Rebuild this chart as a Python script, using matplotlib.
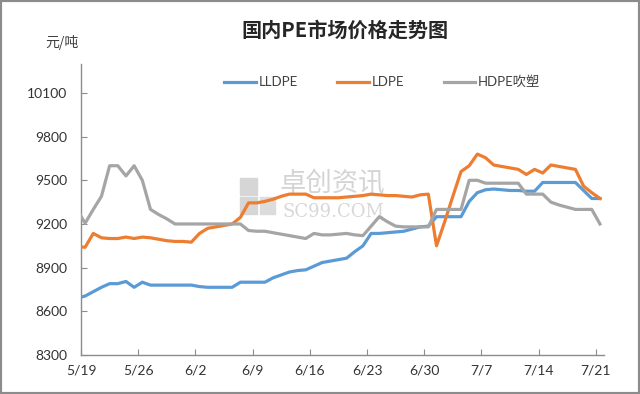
import matplotlib
matplotlib.use("Agg")
import matplotlib.pyplot as plt
import numpy as np
from matplotlib.patches import Rectangle

plt.rcParams["font.family"] = ["Lato", "Noto Sans CJK SC", "DejaVu Sans"]

# daily prices, 5/18 .. 7/21 (first day is clipped by the axis, as in the source)
tick_labels = ["5/19", "5/26", "6/2", "6/9", "6/16", "6/23", "6/30", "7/7", "7/14", "7/21"]
series_names = ["LLDPE", "LDPE", "HDPE吹塑"]

lldpe = [8690, 8705, 8735, 8765, 8790, 8790, 8805, 8765, 8800, 8780,
         8780, 8780, 8780, 8780, 8780, 8770, 8765, 8765, 8765, 8765,
         8800, 8800, 8800, 8800, 8830, 8850, 8870, 8880, 8885, 8910,
         8935, 8945, 8955, 8965, 9010, 9050, 9135, 9135, 9140, 9145,
         9150, 9165, 9180, 9185, 9250, 9250, 9250, 9250, 9355, 9415,
         9435, 9440, 9435, 9430, 9430, 9425, 9425, 9485, 9485, 9485,
         9485, 9485, 9430, 9375, 9375]
ldpe = [9045, 9040, 9135, 9105, 9100, 9100, 9110, 9100, 9110, 9105,
        9095, 9085, 9080, 9080, 9075, 9135, 9170, 9180, 9190, 9200,
        9245, 9345, 9345, 9355, 9370, 9390, 9405, 9405, 9405, 9380,
        9380, 9380, 9380, 9385, 9390, 9395, 9405, 9400, 9395, 9395,
        9390, 9385, 9400, 9405, 9050, 9215, 9390, 9560, 9600, 9680,
        9655, 9605, 9595, 9585, 9575, 9540, 9575, 9550, 9605, 9595,
        9585, 9575, 9460, 9415, 9375]
hdpe = [9300, 9205, 9300, 9390, 9600, 9600, 9530, 9600, 9500, 9300,
        9265, 9235, 9200, 9200, 9200, 9200, 9200, 9200, 9200, 9200,
        9200, 9155, 9150, 9150, 9140, 9130, 9120, 9110, 9100, 9135,
        9125, 9125, 9130, 9135, 9125, 9120, 9185, 9250, 9215, 9185,
        9180, 9180, 9180, 9180, 9300, 9300, 9300, 9300, 9500, 9500,
        9480, 9480, 9480, 9480, 9480, 9405, 9405, 9405, 9350, 9330,
        9315, 9300, 9300, 9300, 9200]

colors = ["#5B9BD5", "#ED7D31", "#A5A5A5"]

fig = plt.figure(figsize=(6.4, 3.94), dpi=100)
ax = fig.add_axes([0.1266, 0.099, 0.8172, 0.739])

x = np.arange(len(lldpe)) - 0.5  # category slots, points centred
for vals, name, c in zip([lldpe, ldpe, hdpe], series_names, colors):
    ax.plot(x, vals, color=c, lw=2.3, label=name, solid_joinstyle="round", zorder=3)

# watermark
ax.text(0.38, 0.59, "卓创资讯", transform=ax.transAxes, ha="left", va="center",
        fontsize=19, color="#d4d4d4", family=["Noto Sans CJK SC"], zorder=1)
ax.text(0.386, 0.49, "SC99.COM", transform=ax.transAxes, ha="left", va="center",
        fontsize=13, color="#d8d8d8", family=["DejaVu Serif"], zorder=1)
ax.add_patch(Rectangle((0.304, 0.55), 0.032, 0.058, transform=ax.transAxes,
                       color="#d6d6d6", zorder=1))
ax.add_patch(Rectangle((0.304, 0.483), 0.032, 0.058, transform=ax.transAxes,
                       color="#d6d6d6", zorder=1))
ax.add_patch(Rectangle((0.342, 0.483), 0.028, 0.058, transform=ax.transAxes,
                       color="#dcdcdc", zorder=1))

ax.set_xlim(0, 64)
ax.set_ylim(8300, 10300)
ax.set_xticks(np.arange(0, 64, 7))
ax.set_xticklabels(tick_labels)
ax.set_yticks(np.arange(8300, 10101, 300))

for s in ["top", "right"]:
    ax.spines[s].set_visible(False)
for s in ["left", "bottom"]:
    ax.spines[s].set_color("#8c8c8c")
    ax.spines[s].set_linewidth(1.0)
ax.tick_params(axis="both", direction="in", length=4, color="#8c8c8c",
               labelsize=10, labelcolor="#333333")
ax.tick_params(axis="y", pad=10)
ax.tick_params(axis="x", pad=7)

fig.text(0.539, 0.924, "国内PE市场价格走势图", ha="center", va="center",
         fontsize=14.5, fontweight="bold", family=["Noto Sans CJK SC"], color="#262626")
fig.text(0.097, 0.893, "元/吨", ha="center", va="center", fontsize=10,
         family=["Noto Sans CJK SC"], color="#404040")

ax.legend(loc="center", bbox_to_anchor=(0.597, 0.792), bbox_transform=fig.transFigure,
          ncol=3, frameon=False, fontsize=9.5, handlelength=2.4, columnspacing=3.0,
          handletextpad=0.2, labelcolor="#404040")

fig.patches.append(Rectangle((0, 0), 1, 1, transform=fig.transFigure, fill=False,
                             edgecolor="#8c8c8c", lw=3, zorder=10))

fig.savefig("out.png", dpi=100)
